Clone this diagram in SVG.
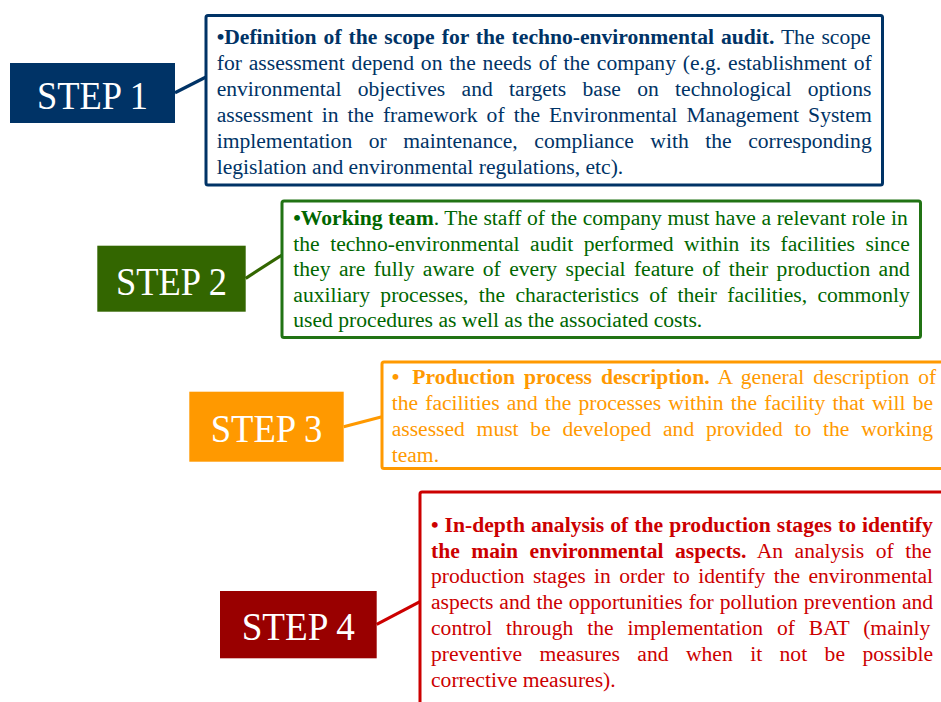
<svg xmlns="http://www.w3.org/2000/svg" width="941" height="702" viewBox="0 0 941 702">
<style>
.step{font-family:"Liberation Serif","Times New Roman",serif;font-size:39px;fill:#ffffff;text-anchor:middle}
.body{font-family:"Liberation Serif","Times New Roman",serif;font-size:21.6px}
.b{font-weight:bold}
.c1{fill:#003366}.c2{fill:#006600}.c3{fill:#FF9900}.c4{fill:#CC0000}
.frame{fill:#ffffff;stroke-width:3}
.conn{stroke-width:3.2;fill:none}
</style>
<rect width="941" height="702" fill="#ffffff"/>
<g id="connectors">
<line class="conn" x1="175" y1="92.7" x2="206" y2="77" stroke="#003366"/>
<line class="conn" x1="245.7" y1="278.3" x2="282" y2="255" stroke="#336600"/>
<line class="conn" x1="343.7" y1="426.7" x2="382" y2="416.7" stroke="#FF9900"/>
<line class="conn" x1="376.7" y1="624.3" x2="420" y2="601.7" stroke="#CC0000"/>
</g>
<g id="step1">
<rect x="10" y="63" width="165" height="60" fill="#003366"/>
<text class="step" x="92.5" y="109" textLength="111" lengthAdjust="spacingAndGlyphs">STEP 1</text>
</g>
<g id="box1">
<rect class="frame" x="206" y="15.5" width="676.5" height="169.5" rx="2" stroke="#003366"/>
<text class="body c1" x="216.7" y="44.3" word-spacing="1.58"><tspan class="b">•Definition of the scope for the techno-environmental audit.</tspan> The scope</text>
<text class="body c1" x="216.7" y="70.3" word-spacing="1.49">for assessment depend on the needs of the company (e.g. establishment of</text>
<text class="body c1" x="216.7" y="96.2" word-spacing="10.91">environmental objectives and targets base on technological options</text>
<text class="body c1" x="216.7" y="122.1" word-spacing="3.62">assessment in the framework of the Environmental Management System</text>
<text class="body c1" x="216.7" y="148" word-spacing="11.13">implementation or maintenance, compliance with the corresponding</text>
<text class="body c1" x="216.7" y="173.9">legislation and environmental regulations, etc).</text>
</g>
<g id="step2">
<rect x="97.3" y="245.7" width="148.4" height="66" fill="#336600"/>
<text class="step" x="171.5" y="295" textLength="111" lengthAdjust="spacingAndGlyphs">STEP 2</text>
</g>
<g id="box2">
<rect class="frame" x="282" y="201" width="638.5" height="136.5" rx="2" stroke="#217314"/>
<text class="body c2" x="293.3" y="225" word-spacing="0.22"><tspan class="b">•Working team</tspan>. The staff of the company must have a relevant role in</text>
<text class="body c2" x="293.3" y="250.6" word-spacing="5.06">the techno-environmental audit performed within its facilities since</text>
<text class="body c2" x="293.3" y="276.2" word-spacing="3.01">they are fully aware of every special feature of their production and</text>
<text class="body c2" x="293.3" y="301.8" word-spacing="4.89">auxiliary processes, the characteristics of their facilities, commonly</text>
<text class="body c2" x="293.3" y="327.4">used procedures as well as the associated costs.</text>
</g>
<g id="step3">
<rect x="189.3" y="391.7" width="154.4" height="70" fill="#FF9900"/>
<text class="step" x="266.5" y="442" textLength="111.6" lengthAdjust="spacingAndGlyphs">STEP 3</text>
</g>
<g id="box3">
<rect class="frame" x="382" y="362" width="580" height="106.5" rx="2" stroke="#FF9900"/>
<text class="body c3" x="391.7" y="384" word-spacing="3.6"><tspan class="b">• <tspan dx="4">Production process description.</tspan></tspan> A general description of</text>
<text class="body c3" x="391.7" y="410" word-spacing="1.73">the facilities and the processes within the facility that will be</text>
<text class="body c3" x="391.7" y="436" word-spacing="6.36">assessed must be developed and provided to the working</text>
<text class="body c3" x="391.7" y="461.7">team.</text>
</g>
<g id="step4">
<rect x="220" y="591" width="156.7" height="67.3" fill="#990000"/>
<text class="step" x="298.3" y="640" textLength="113.3" lengthAdjust="spacingAndGlyphs">STEP 4</text>
</g>
<g id="box4">
<rect class="frame" x="420" y="492" width="560" height="260" rx="2" stroke="#CC0000"/>
<text class="body c4" x="431" y="531.7" word-spacing="0.64"><tspan class="b">• In-depth analysis of the production stages to identify</tspan></text>
<text class="body c4" x="431" y="557.5" word-spacing="6.1"><tspan class="b">the main environmental aspects.</tspan> An analysis of the</text>
<text class="body c4" x="431" y="583.3" word-spacing="2.94">production stages in order to identify the environmental</text>
<text class="body c4" x="431" y="609.1" word-spacing="0.54">aspects and the opportunities for pollution prevention and</text>
<text class="body c4" x="431" y="634.9" word-spacing="8.52">control through the implementation of BAT (mainly</text>
<text class="body c4" x="431" y="660.7" word-spacing="12.03">preventive measures and when it not be possible</text>
<text class="body c4" x="431" y="686.5">corrective measures).</text>
</g>
</svg>
